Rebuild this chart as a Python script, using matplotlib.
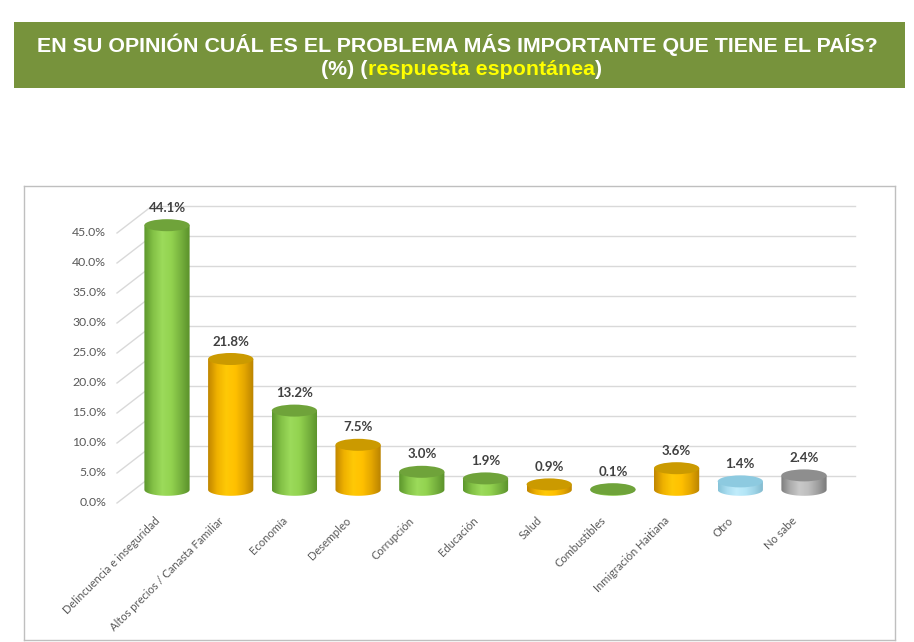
import numpy as np
import matplotlib.pyplot as plt
from matplotlib.patches import Ellipse, PathPatch, Rectangle
from matplotlib.path import Path
from matplotlib.colors import LinearSegmentedColormap

# --- data ---
categories = ['Delincuencia e inseguridad', 'Altos precios / Canasta Familiar', 'Economía',
              'Desempleo', 'Corrupción', 'Educación', 'Salud', 'Combustibles',
              'Inmigración Haitiana', 'Otro', 'No sabe']
values = [44.1, 21.8, 13.2, 7.5, 3.0, 1.9, 0.9, 0.1, 3.6, 1.4, 2.4]
bar_kind = ['green', 'orange', 'green', 'orange', 'green', 'green', 'orange',
            'green', 'orange', 'blue', 'gray']
y_ticks = [0, 5, 10, 15, 20, 25, 30, 35, 40, 45]

title_1 = 'EN SU OPINIÓN CUÁL ES EL PROBLEMA MÁS IMPORTANTE QUE TIENE EL PAÍS?'
title_2 = 'respuesta espontánea'

# --- colours for the fake 3d cylinders ---
body_colors = {
    'green': ['#5C962C', '#84C247', '#9CDB5B', '#92D24F', '#77B23E', '#5A912B'],
    'orange': ['#C08600', '#F0B200', '#FFC906', '#FFC000', '#E3A600', '#B98200'],
    'blue': ['#86C3D8', '#A9DDF0', '#C0ECFB', '#B4E6F7', '#9DD3E6', '#80B8CC'],
    'gray': ['#7D7D7D', '#ADADAD', '#C9C9C9', '#BEBEBE', '#A0A0A0', '#7A7A7A'],
}
top_colors = {'green': '#6FA33A', 'orange': '#CB9A00', 'blue': '#8DCAE0', 'gray': '#8E8E8E'}

W, H = 914, 642
fig = plt.figure(figsize=(W / 100, H / 100), dpi=100)
fig.patch.set_facecolor('white')


def fx(px):
    return px / W


def fy(py):
    return 1 - py / H


title_font = dict(fontsize=15.4, fontweight='bold', family='Liberation Sans')

# title banner
fig.patches.append(Rectangle((fx(14), fy(88)), fx(905) - fx(14), fy(22) - fy(88),
                             transform=fig.transFigure, facecolor='#77933C',
                             edgecolor='none'))
fig.text(0.5, fy(45), title_1, ha='center', va='center', color='white', **title_font)

# second title line: white brackets around the yellow part
mid = fig.text(fx(481), fy(75), title_2, ha='center', va='baseline', color='#FFFF00',
               **title_font)
renderer = fig.canvas.get_renderer()
bb = mid.get_window_extent(renderer)
fig.text(bb.x0 / W, fy(75), '(%) (', ha='right', va='baseline', color='white', **title_font)
fig.text(bb.x1 / W, fy(75), ')', ha='left', va='baseline', color='white', **title_font)

# chart box, scale: 63.7 px per category, 6 px per percent
ax = fig.add_axes([fx(24), fy(640), fx(895) - fx(24), fy(186) - fy(640)])
xlim = ((24 - 167) / 63.7, (895 - 167) / 63.7)
ylim = ((503 - 640) / 6, (503 - 186) / 6)
ax.set_xticks([])
ax.set_yticks([])
for s in ax.spines.values():
    s.set_color('#BFBFBF')
    s.set_linewidth(1)

# back wall gridlines + diagonals to the front labels
front_x = (117 - 167) / 63.7
back_x = (152 - 167) / 63.7
right_x = (855 - 167) / 63.7
depth = 4.5
for t in y_ticks:
    ax.plot([front_x, back_x], [t, t + depth], color='#D9D9D9', lw=1, zorder=1)
    ax.plot([back_x, right_x], [t + depth, t + depth], color='#D9D9D9', lw=1, zorder=1)
    ax.text((106 - 167) / 63.7, t, f'{t:.1f}%', ha='right', va='center',
            fontsize=8.8, color='#595959', family='Lato')

# cylinders
base = 2.2
hw = 0.355
eh = 1.0
grad = np.linspace(0, 1, 200).reshape(1, -1)
theta = np.linspace(np.pi, 2 * np.pi, 40)
for i, (v, kind) in enumerate(zip(values, bar_kind)):
    top = base + v
    arc = np.column_stack([i + hw * np.cos(theta), base + eh * np.sin(theta)])
    verts = [(i - hw, top)] + arc.tolist() + [(i + hw, top), (i - hw, top)]
    codes = [Path.MOVETO] + [Path.LINETO] * (len(verts) - 2) + [Path.CLOSEPOLY]
    clip = PathPatch(Path(verts, codes), facecolor='none', edgecolor='none')
    ax.add_patch(clip)
    cmap = LinearSegmentedColormap.from_list(kind, body_colors[kind])
    im = ax.imshow(grad, cmap=cmap, extent=(i - hw, i + hw, base - eh, top),
                   aspect='auto', interpolation='bicubic', zorder=3)
    im.set_clip_path(clip)
    ax.add_patch(Ellipse((i, top), 2 * hw, 2 * eh, facecolor=top_colors[kind],
                         edgecolor='none', zorder=4))
    ax.text(i, top + 2.9, f'{v:.1f}%', ha='center', va='center', fontsize=9.5,
            fontweight='bold', color='#404040', family='Lato', zorder=5)

# rotated category labels
for i, name in enumerate(categories):
    ax.text(i - 0.2, -2.0, name, rotation=45, rotation_mode='anchor', ha='right',
            va='top', fontsize=8, color='#595959', family='Lato')

ax.set_xlim(*xlim)
ax.set_ylim(*ylim)

fig.savefig('out.png', dpi=100)
